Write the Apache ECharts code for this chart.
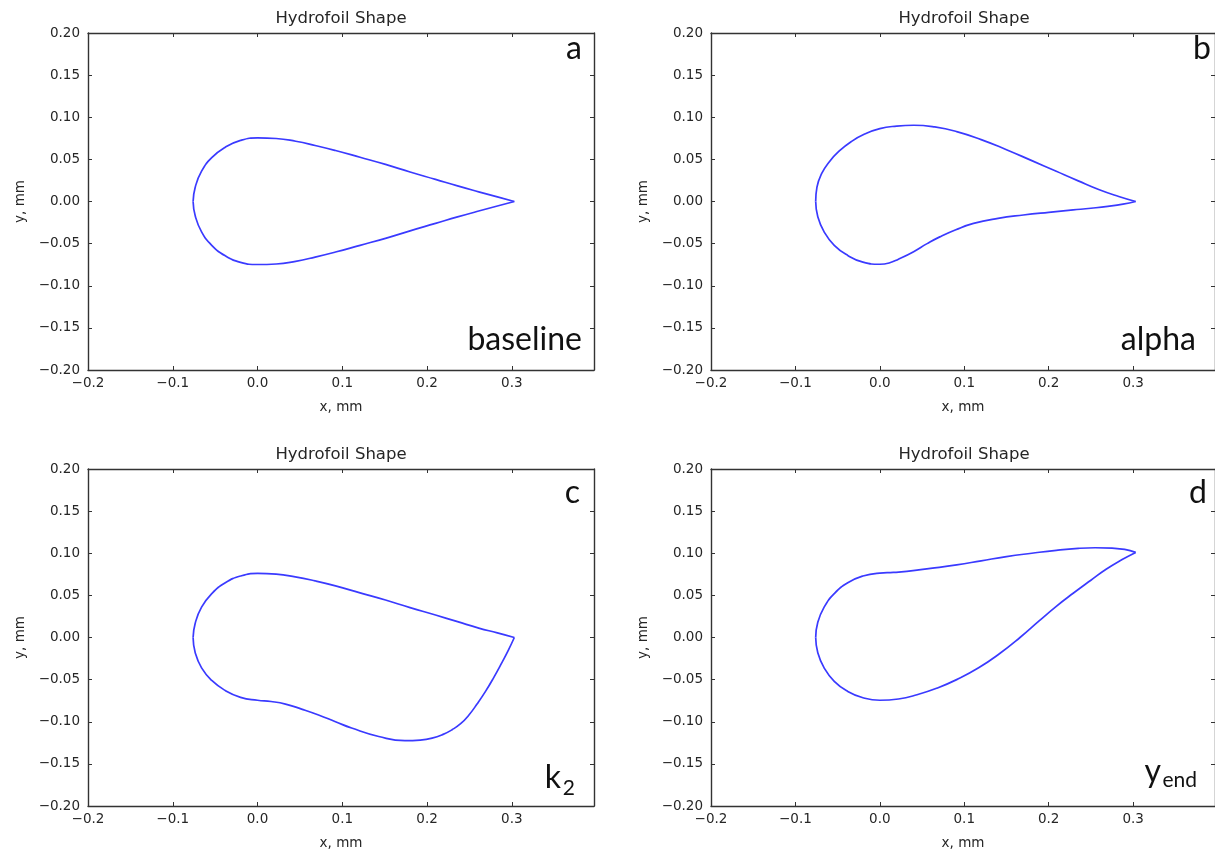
<!DOCTYPE html>
<html>
<head>
<meta charset="utf-8">
<script src="https://cdn.jsdelivr.net/npm/echarts@6/dist/echarts.min.js"></script>
<style>html,body{margin:0;padding:0;background:#fff}#c{width:1215px;height:853px}</style>
</head>
<body>
<div id="c"></div>
<script>
// ---------- data (x, y in mm) ----------
const baselineUpper = [[-0.076,0.000],[-0.0735,0.017],[-0.066,0.036],[-0.054,0.052],[-0.038,0.0645],[-0.020,0.0725],[0.000,0.0755],[0.022,0.0748],[0.045,0.0715],[0.068,0.0665],[0.092,0.0605],[0.121,0.0525],[0.151,0.0440],[0.180,0.0350],[0.210,0.0262],[0.236,0.0185],[0.261,0.0115],[0.283,0.0055],[0.303,0.000]];
const baselineLower = [[-0.076,0.000],[-0.0735,-0.017],[-0.066,-0.036],[-0.054,-0.052],[-0.038,-0.0645],[-0.020,-0.0722],[0.000,-0.0748],[0.022,-0.0742],[0.045,-0.0710],[0.068,-0.0660],[0.092,-0.0600],[0.121,-0.0520],[0.151,-0.0437],[0.180,-0.0348],[0.210,-0.0260],[0.236,-0.0183],[0.261,-0.0113],[0.283,-0.0054],[0.303,0.000]];
const alphaUpper = [[-0.076,0.000],[-0.0745,0.017],[-0.069,0.033],[-0.060,0.047],[-0.048,0.060],[-0.034,0.071],[-0.018,0.080],[0.000,0.0865],[0.020,0.0895],[0.040,0.0905],[0.065,0.0885],[0.091,0.0830],[0.120,0.0735],[0.150,0.0615],[0.180,0.0485],[0.209,0.0358],[0.235,0.0245],[0.260,0.0140],[0.283,0.0060],[0.303,0.000]];
const alphaLower = [[-0.076,0.000],[-0.0735,-0.018],[-0.066,-0.036],[-0.054,-0.052],[-0.038,-0.064],[-0.020,-0.072],[0.000,-0.0745],[0.011,-0.073],[0.022,-0.0685],[0.040,-0.0595],[0.056,-0.050],[0.071,-0.0420],[0.090,-0.0335],[0.111,-0.0260],[0.140,-0.0200],[0.170,-0.0160],[0.200,-0.0128],[0.229,-0.0100],[0.250,-0.0080],[0.270,-0.0058],[0.288,-0.0032],[0.303,0.000]];
const k2Upper = [[-0.076,0.000],[-0.0735,0.017],[-0.066,0.036],[-0.054,0.052],[-0.038,0.065],[-0.020,0.073],[0.000,0.076],[0.022,0.0752],[0.0445,0.0720],[0.068,0.0672],[0.092,0.0613],[0.121,0.0530],[0.151,0.0445],[0.180,0.0355],[0.210,0.0267],[0.236,0.0188],[0.261,0.0112],[0.283,0.0055],[0.303,0.000]];
const k2Lower = [[-0.076,0.000],[-0.0735,-0.018],[-0.066,-0.036],[-0.054,-0.051],[-0.038,-0.063],[-0.020,-0.071],[0.000,-0.0745],[0.016,-0.0760],[0.033,-0.0790],[0.052,-0.0850],[0.072,-0.0920],[0.092,-0.1000],[0.111,-0.1075],[0.143,-0.1175],[0.174,-0.1225],[0.192,-0.1218],[0.206,-0.1195],[0.219,-0.1150],[0.2295,-0.1095],[0.240,-0.1020],[0.249,-0.0925],[0.259,-0.0790],[0.269,-0.0640],[0.279,-0.0470],[0.2885,-0.0295],[0.296,-0.0150],[0.303,0.000]];
const yendUpper = [[-0.076,0.000],[-0.0735,0.018],[-0.066,0.036],[-0.054,0.052],[-0.038,0.065],[-0.020,0.073],[0.000,0.0765],[0.016,0.0772],[0.032,0.0785],[0.060,0.0820],[0.091,0.0862],[0.120,0.0910],[0.150,0.0960],[0.180,0.1000],[0.209,0.1035],[0.235,0.1058],[0.255,0.1065],[0.275,0.1060],[0.290,0.1045],[0.303,0.1010]];
const yendLower = [[-0.076,0.000],[-0.0735,-0.018],[-0.066,-0.036],[-0.054,-0.052],[-0.038,-0.064],[-0.020,-0.0715],[0.000,-0.0745],[0.022,-0.0730],[0.044,-0.0680],[0.068,-0.0600],[0.091,-0.0500],[0.117,-0.0360],[0.142,-0.0190],[0.166,0.0000],[0.189,0.0200],[0.209,0.0370],[0.229,0.0525],[0.250,0.0680],[0.268,0.0810],[0.287,0.0925],[0.303,0.1010]];

// ---------- text / ticks ----------
const titles = ['Hydrofoil Shape','Hydrofoil Shape','Hydrofoil Shape','Hydrofoil Shape'];
const letters = ['a','b','c','d'];
const xTickLabels = ['\u22120.2','\u22120.1','0.0','0.1','0.2','0.3'];
const yTickLabels = ['\u22120.20','\u22120.15','\u22120.10','\u22120.05','0.00','0.05','0.10','0.15','0.20'];
const xAxisName = 'x, mm';
const yAxisName = 'y, mm';

// ---------- layout / style ----------
const X_MIN = -0.2, X_MAX = 0.397, X_INT = 0.1;
const Y_MIN = -0.2, Y_MAX = 0.2, Y_INT = 0.05;
const GW = 506, GH = 337;
const gridPos = [[88,33],[711,33],[88,469],[711,469]];
const FONT = 'DejaVu Sans';
const AX = '#333';
const TXT = '#262626';
const LINE = '#3a3aff';
const ANN = 'Lato';

const shapes = [[baselineUpper, baselineLower],[alphaUpper, alphaLower],[k2Upper, k2Lower],[yendUpper, yendLower]];

function fmtX(v){
  const k = (v - X_MIN) / X_INT;
  if (Math.abs(k - Math.round(k)) > 1e-6) return '';
  return xTickLabels[Math.round(k)] || '';
}
function fmtY(v){
  const k = (v - Y_MIN) / Y_INT;
  if (Math.abs(k - Math.round(k)) > 1e-6) return '';
  return yTickLabels[Math.round(k)] || '';
}

const grid = [], xAxis = [], yAxis = [], series = [], graphic = [];
gridPos.forEach((p, i) => {
  grid.push({left:p[0], top:p[1], width:GW, height:GH, show:false});
  const axLine = {onZero:false, lineStyle:{color:AX, width:1.4}};
  const tick = {inside:true, length:4, lineStyle:{color:AX, width:1}};
  xAxis.push({gridIndex:i, type:'value', position:'bottom', min:X_MIN, max:X_MAX, interval:X_INT,
    axisLine:axLine, axisTick:tick, splitLine:{show:false},
    axisLabel:{margin:6, fontFamily:FONT, fontSize:13.5, color:TXT, formatter:fmtX, showMaxLabel:false},
    name:xAxisName, nameLocation:'middle', nameGap:30,
    nameTextStyle:{fontFamily:FONT, fontSize:13.5, color:TXT}});
  xAxis.push({gridIndex:i, type:'value', position:'top', min:X_MIN, max:X_MAX, interval:X_INT,
    axisLine:axLine, axisTick:tick, splitLine:{show:false}, axisLabel:{show:false}});
  yAxis.push({gridIndex:i, type:'value', position:'left', min:Y_MIN, max:Y_MAX, interval:Y_INT,
    axisLine:axLine, axisTick:tick, splitLine:{show:false},
    axisLabel:{margin:8, fontFamily:FONT, fontSize:13.5, color:TXT, formatter:fmtY},
    name:yAxisName, nameLocation:'middle', nameGap:61, nameRotate:90,
    nameTextStyle:{fontFamily:FONT, fontSize:13.5, color:TXT}});
  yAxis.push({gridIndex:i, type:'value', position:'right', min:Y_MIN, max:Y_MAX, interval:Y_INT,
    axisLine:axLine, axisTick:tick, splitLine:{show:false}, axisLabel:{show:false}});
  shapes[i].forEach(d => {
    series.push({type:'line', xAxisIndex:2*i, yAxisIndex:2*i, data:d, showSymbol:false, symbol:'none',
      smooth:0.5, lineStyle:{color:LINE, width:1.7}, silent:true});
  });
  graphic.push({type:'text', x:p[0]+GW/2, y:p[1]-14, silent:true,
    style:{text:titles[i], font:'16.5px "'+FONT+'"', fill:TXT, align:'center', textAlign:'center', verticalAlign:'middle', textVerticalAlign:'middle'}});
});

function ann(text, x, y, size){
  graphic.push({type:'text', x:x, y:y, silent:true,
    style:{text:text, font:size+'px "'+ANN+'"', fill:'#111', align:'right', textAlign:'right', verticalAlign:'middle', textVerticalAlign:'middle'}});
}
// panel letters
ann(letters[0], 582, 49, 32);
ann(letters[1], 1211, 49, 32);
ann(letters[2], 580, 493, 32);
ann(letters[3], 1207, 493, 32);
// parameter names
ann('baseline', 582, 340, 32);
ann('alpha', 1196, 340, 32);
ann('k', 561, 778, 32);
ann('2', 575, 788, 21);
ann('y', 1161, 772, 32);
ann('end', 1197, 780, 21);

const chart = echarts.init(document.getElementById('c'));
chart.setOption({animation:false, backgroundColor:'#fff', grid, xAxis, yAxis, series, graphic});
</script>
</body>
</html>
